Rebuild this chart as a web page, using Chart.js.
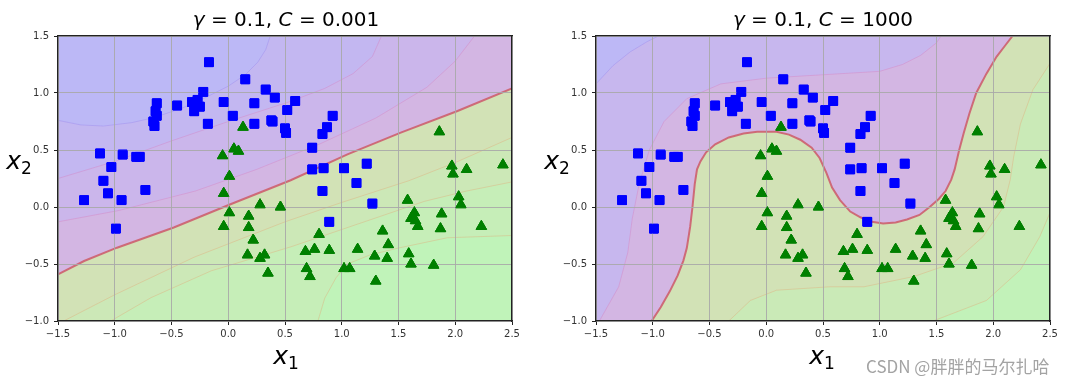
<!DOCTYPE html>
<html><head><meta charset="utf-8">
<script src="https://cdn.jsdelivr.net/npm/chart.js@4"></script>
<style>
html,body{margin:0;padding:0;background:#fff;width:1092px;height:384px;overflow:hidden;position:relative;font-family:'DejaVu Sans',sans-serif;}
.cv{position:absolute;top:0;}
.lbl{position:absolute;transform:translate(-50%,-50%);white-space:nowrap;color:#000;line-height:1;}
.title{font-size:20px;}
.ax{font-size:25px;}
.ax sub{font-size:17px;vertical-align:-5px;}
.wm{position:absolute;left:866px;top:357px;font-family:'Noto Sans CJK SC',sans-serif;font-size:17px;color:#a3a3a3;white-space:nowrap;line-height:1;}
</style></head><body>
<canvas id="c1" class="cv" width="546" height="384" style="left:0"></canvas>
<canvas id="c2" class="cv" width="546" height="384" style="left:546px"></canvas>
<div class="lbl title" style="left:286px;top:19px"><i>γ</i> = 0.1, <i>C</i> = 0.001</div>
<div class="lbl title" style="left:823px;top:19px"><i>γ</i> = 0.1, <i>C</i> = 1000</div>
<div class="lbl ax" style="left:286px;top:357px"><i>x</i><sub>1</sub></div>
<div class="lbl ax" style="left:19px;top:162px"><i>x</i><sub>2</sub></div>
<div class="lbl ax" style="left:822px;top:357px"><i>x</i><sub>1</sub></div>
<div class="lbl ax" style="left:557px;top:162px"><i>x</i><sub>2</sub></div>
<div class="wm">CSDN @胖胖的马尔扎哈</div>
<script>
// ---- axis ranges & ticks ----
const XMIN = -1.5, XMAX = 2.5, YMIN = -1.0, YMAX = 1.5;
const xTicks = [-1.5, -1.0, -0.5, 0.0, 0.5, 1.0, 1.5, 2.0, 2.5];
const yTicks = [-1.0, -0.5, 0.0, 0.5, 1.0, 1.5];

// ---- class 0 (blue squares) ----
const blueX = [-0.17, 0.15, 0.33, 0.41, 0.59, 0.52, 0.23, -0.04, 0.04, 0.23, 0.38, 0.39, 0.50, 0.51,
  -0.22, -0.27, -0.32, -0.25, -0.30, -0.18, -0.45, -0.63, -0.64, -0.63, -0.66, -0.65,
  -1.13, -0.93, -0.81, -0.78, -1.03, -1.10, -0.73, -1.06, -0.94, -1.27, -0.99,
  0.74, 0.83, 0.87, 0.92, 0.74, 0.84, 1.02, 1.22, 1.13, 0.83, 1.27, 0.89];
const blueY = [1.27, 1.12, 1.03, 0.96, 0.93, 0.85, 0.91, 0.92, 0.80, 0.73, 0.76, 0.75, 0.69, 0.65,
  1.01, 0.94, 0.92, 0.88, 0.84, 0.73, 0.89, 0.91, 0.84, 0.80, 0.75, 0.71,
  0.47, 0.46, 0.44, 0.44, 0.35, 0.23, 0.15, 0.12, 0.06, 0.06, -0.19,
  0.52, 0.64, 0.70, 0.80, 0.33, 0.34, 0.34, 0.38, 0.21, 0.14, 0.03, -0.13];

// ---- class 1 (green triangles) ----
const greenX = [0.13, 1.86, -0.05, 0.05, 0.09, 0.01, -0.04, 0.01, -0.04, 0.28, 0.46, 0.18, 0.18, 0.22,
  0.17, 0.28, 0.32, 0.35, 0.80, 0.68, 0.76, 0.89, 0.69, 0.72, 1.02, 1.07, 1.14, 1.29, 1.30,
  1.36, 1.41, 1.40, 1.58, 1.64, 1.61, 1.65, 1.67, 1.59, 1.61, 1.81, 1.88, 1.87, 1.97, 1.98,
  2.10, 2.03, 2.05, 2.23, 2.42];
const greenY = [0.70, 0.66, 0.45, 0.51, 0.49, 0.27, 0.12, -0.05, -0.17, 0.02, 0.00, -0.08, -0.18, -0.29,
  -0.42, -0.45, -0.42, -0.58, -0.24, -0.39, -0.37, -0.38, -0.54, -0.61, -0.54, -0.54, -0.37, -0.43, -0.65,
  -0.21, -0.33, -0.45, 0.06, -0.05, -0.10, -0.12, -0.17, -0.41, -0.50, -0.51, -0.06, -0.19, 0.36, 0.29,
  0.33, 0.09, 0.02, -0.17, 0.37];

// ---- left panel (C = 0.001): contour lines ----
const leftC1 = [[-1.5,0.76],[-1.3,0.72],[-1.1,0.71],[-0.85,0.74],[-0.65,0.785],[-0.4,0.87],[-0.2,0.96],[0.0,1.06],[0.15,1.16],[0.26,1.27],[0.33,1.38],[0.37,1.5]];
const leftC2 = [[-1.5,0.25],[-1.0,0.40],[-0.5,0.58],[0.0,0.75],[0.53,0.92],[0.85,1.04],[1.1,1.17],[1.27,1.32],[1.35,1.5]];
const leftC3 = [[-1.5,-0.13],[-0.96,-0.03],[-0.29,0.14],[0.25,0.33],[0.8,0.55],[1.3,0.78],[1.75,1.05],[2.0,1.28],[2.17,1.5]];
const leftBoundary = [[-1.5,-0.59],[-1.27,-0.474],[-0.98,-0.357],[-0.48,-0.18],[0.02,0.024],[0.55,0.235],[1.05,0.462],[1.52,0.652],[2.02,0.842],[2.5,1.04]];
const leftC4 = [[-1.45,-1.0],[-1.0,-0.77],[-0.3,-0.44],[0.5,-0.13],[1.0,0.04],[1.59,0.23],[2.0,0.39],[2.5,0.61]];
const leftC5 = [[-1.035,-1.0],[-0.68,-0.795],[-0.15,-0.56],[0.55,-0.35],[1.14,-0.15],[1.73,0.05],[2.1,0.14],[2.5,0.22]];
const leftC6 = [[0.79,-1.0],[0.85,-0.8],[0.95,-0.62],[1.05,-0.5],[1.25,-0.42],[1.5,-0.36],[1.93,-0.27],[2.5,-0.25]];

// ---- right panel (C = 1000): contour lines ----
const rightC1 = [[-1.5,1.08],[-1.35,1.24],[-1.2,1.36],[-1.05,1.45],[-0.95,1.5]];
const rightC2 = [[-1.47,-1.0],[-1.3,-0.7],[-1.22,-0.4],[-1.18,-0.1],[-1.12,0.2],[-1.03,0.5],[-0.9,0.75],[-0.7,0.95],[-0.4,1.08],[0.0,1.13],[0.5,1.16],[1.0,1.19],[1.2,1.25],[1.36,1.33],[1.5,1.44],[1.54,1.5]];
const rightBoundary = [[-1.01,-1.0],[-0.93,-0.88],[-0.85,-0.74],[-0.78,-0.60],[-0.73,-0.47],[-0.70,-0.36],[-0.67,-0.17],[-0.65,0.0],[-0.63,0.2],[-0.61,0.33],[-0.58,0.40],[-0.53,0.48],[-0.45,0.55],[-0.33,0.61],[-0.2,0.645],[-0.08,0.66],[0.09,0.66],[0.20,0.635],[0.30,0.59],[0.40,0.52],[0.47,0.43],[0.53,0.30],[0.58,0.17],[0.65,0.06],[0.74,-0.04],[0.83,-0.09],[0.93,-0.13],[1.03,-0.145],[1.14,-0.135],[1.24,-0.11],[1.35,-0.07],[1.44,0.0],[1.52,0.07],[1.58,0.14],[1.63,0.24],[1.66,0.33],[1.70,0.50],[1.74,0.65],[1.79,0.82],[1.85,1.0],[1.94,1.17],[2.03,1.32],[2.10,1.41],[2.17,1.5]];
const rightC4 = [[-0.33,-1.0],[-0.14,-0.82],[0.09,-0.73],[0.56,-0.70],[0.86,-0.70],[1.30,-0.61],[1.65,-0.49],[1.91,-0.26],[2.09,0.0],[2.15,0.24],[2.18,0.44],[2.24,0.73],[2.35,1.03],[2.5,1.26]];
const rightC5 = [[1.47,-1.0],[1.94,-0.82],[2.24,-0.55],[2.41,-0.26],[2.5,-0.05]];

// ---- helpers ----
const toPts = a => a.map(p => ({x: p[0], y: p[1]}));
function regionAbove(curve) {
  const pts = toPts(curve);
  const s = curve[0], e = curve[curve.length - 1];
  if (e[0] >= XMAX - 1e-9 && e[1] < YMAX) pts.push({x: XMAX, y: YMAX});
  pts.push({x: XMIN, y: YMAX});
  if (s[1] <= YMIN + 1e-9 && s[0] > XMIN) pts.push({x: XMIN, y: YMIN});
  return pts;
}
const fullRect = toPts([[XMIN,YMIN],[XMAX,YMIN],[XMAX,YMAX],[XMIN,YMAX]]);
const fmt = v => (v < 0 ? '\u2212' : '') + Math.abs(v).toFixed(1);

const LINE_B = 'rgba(150,130,235,0.35)', LINE_P = 'rgba(215,120,185,0.35)', LINE_G = 'rgba(225,170,120,0.4)';

const redrawPoints = {
  id: 'redrawPoints',
  afterDraw(chart) {
    [0, 1].forEach(i => chart.getDatasetMeta(i).data.forEach(p => p.draw(chart.ctx, chart.chartArea)));
  }
};

function build(id, layers, boundary, leftW, rightPad) {
  const datasets = [
    {label: 'blue', data: blueX.map((x, i) => ({x, y: blueY[i]})), pointStyle: 'rect', pointRadius: 6.2,
     backgroundColor: '#0000ff', borderColor: '#0000ff', borderWidth: 1, showLine: false, order: 0},
    {label: 'green', data: greenX.map((x, i) => ({x, y: greenY[i]})), pointStyle: 'triangle', pointRadius: 6,
     backgroundColor: '#008000', borderColor: '#008000', borderWidth: 1, showLine: false, order: 0},
    {label: 'boundary', data: toPts(boundary), showLine: true, fill: false, borderColor: 'rgba(205,95,110,0.9)',
     borderWidth: 2, pointRadius: 0, order: 1}
  ];
  layers.forEach((L, i) => datasets.push({
    label: 'band' + i, data: L.poly, showLine: true, fill: 'shape', backgroundColor: L.color,
    borderColor: L.line || 'rgba(0,0,0,0)', borderWidth: L.line ? 1 : 0, pointRadius: 0, order: 100 - i
  }));
  const tickFont = {family: 'DejaVu Sans', size: 10};
  const gridOpt = {color: 'rgba(168,168,168,0.9)', lineWidth: 1, z: 1, drawTicks: true, tickLength: 4, tickColor: '#222'};
  const borderOpt = {display: true, color: '#222', width: 1.3, z: 2};
  new Chart(document.getElementById(id), {
    type: 'scatter',
    data: {datasets},
    plugins: [redrawPoints],
    options: {
      responsive: false, animation: false, events: [],
      layout: {padding: {left: 0, top: 36, right: rightPad, bottom: 0}},
      plugins: {legend: {display: false}, tooltip: {enabled: false}, title: {display: false}},
      scales: {
        x: {type: 'linear', position: 'bottom', min: XMIN, max: XMAX,
            afterBuildTicks: s => { s.ticks = xTicks.map(v => ({value: v})); },
            afterFit: s => { s.height = 63; },
            ticks: {callback: fmt, font: tickFont, color: '#333', padding: 3, maxRotation: 0, autoSkip: false},
            grid: gridOpt, border: borderOpt},
        y: {type: 'linear', position: 'left', min: YMIN, max: YMAX,
            afterBuildTicks: s => { s.ticks = yTicks.map(v => ({value: v})); },
            afterFit: s => { s.width = leftW; },
            ticks: {callback: fmt, font: tickFont, color: '#333', padding: 5, autoSkip: false},
            grid: gridOpt, border: borderOpt},
        x2: {type: 'linear', position: 'top', min: XMIN, max: XMAX, afterFit: s => { s.height = 0; },
             ticks: {display: false}, grid: {display: false, drawTicks: false}, border: borderOpt},
        y2: {type: 'linear', position: 'right', min: YMIN, max: YMAX, afterFit: s => { s.width = 0; },
             ticks: {display: false}, grid: {display: false, drawTicks: false}, border: borderOpt}
      }
    }
  });
}

// left panel layers (bottom-most first)
build('c1', [
  {poly: fullRect, color: 'rgb(192,243,185)'},
  {poly: regionAbove(leftC6), color: 'rgb(198,238,184)', line: LINE_G},
  {poly: regionAbove(leftC5), color: 'rgb(204,232,183)', line: LINE_G},
  {poly: regionAbove(leftC4), color: 'rgb(210,226,182)', line: LINE_G},
  {poly: regionAbove(leftBoundary), color: 'rgb(211,182,227)'},
  {poly: regionAbove(leftC3), color: 'rgb(203,182,235)', line: LINE_P},
  {poly: regionAbove(leftC2), color: 'rgb(195,183,241)', line: LINE_P},
  {poly: regionAbove(leftC1), color: 'rgb(188,184,246)', line: LINE_B}
], leftBoundary, 58, 34);

// right panel layers
build('c2', [
  {poly: fullRect, color: 'rgb(194,242,185)'},
  {poly: regionAbove(rightC5), color: 'rgb(202,234,183)', line: LINE_G},
  {poly: regionAbove(rightC4), color: 'rgb(210,226,182)', line: LINE_G},
  {poly: regionAbove(rightBoundary), color: 'rgb(211,182,227)'},
  {poly: regionAbove(rightC2), color: 'rgb(199,183,238)', line: LINE_P},
  {poly: regionAbove(rightC1), color: 'rgb(189,184,246)', line: LINE_B}
], rightBoundary, 50, 42);
</script>
</body></html>
